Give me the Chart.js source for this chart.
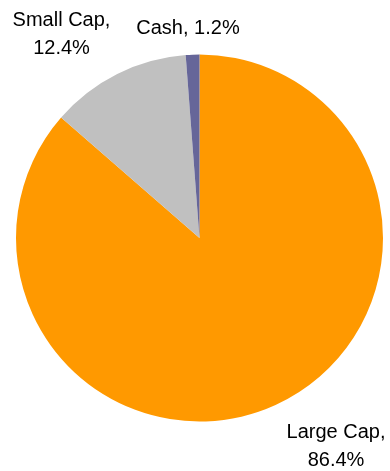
<!DOCTYPE html>
<html>
<head>
<meta charset="utf-8">
<script src="https://cdn.jsdelivr.net/npm/chart.js@4/dist/chart.umd.min.js"></script>
<style>
html,body{margin:0;padding:0;background:#fff;}
#c{display:block;}
</style>
</head>
<body>
<canvas id="c" width="390" height="471"></canvas>
<script>
const categories = ["Large Cap", "Small Cap", "Cash"];
const values = [86.4, 12.4, 1.2];
const labelTexts = [["Large Cap,", "86.4%"], ["Small Cap,", "12.4%"], ["Cash, 1.2%"]];
const colors = ["#FF9900", "#C0C0C0", "#666699"];

// label anchor offsets relative to pie center (layout only)
const labelOffsets = [
  {dx: 136.5, dy: 200},
  {dx: -138, dy: -212},
  {dx: -11.5, dy: -204}
];

const labelPlugin = {
  id: 'pieLabels',
  afterDraw(chart) {
    const ctx = chart.ctx;
    const meta = chart.getDatasetMeta(0);
    ctx.save();
    ctx.font = '20px "Liberation Sans", Arial, sans-serif';
    ctx.fillStyle = '#000';
    ctx.textAlign = 'center';
    ctx.textBaseline = 'alphabetic';
    meta.data.forEach((arc, i) => {
      const cx = arc.x, cy = arc.y;
      const off = labelOffsets[i];
      labelTexts[i].forEach((line, j) => {
        ctx.fillText(line, cx + off.dx, cy + off.dy + j * 28);
      });
    });
    ctx.restore();
  }
};

new Chart(document.getElementById('c'), {
  type: 'pie',
  data: {
    labels: categories,
    datasets: [{
      data: values,
      backgroundColor: colors,
      borderWidth: 0,
      hoverOffset: 0
    }]
  },
  options: {
    responsive: false,
    animation: false,
    layout: {padding: {left: 16, right: 7, top: 54, bottom: 49}},
    plugins: {
      legend: {display: false},
      tooltip: {enabled: false}
    }
  },
  plugins: [labelPlugin]
});
</script>
</body>
</html>
